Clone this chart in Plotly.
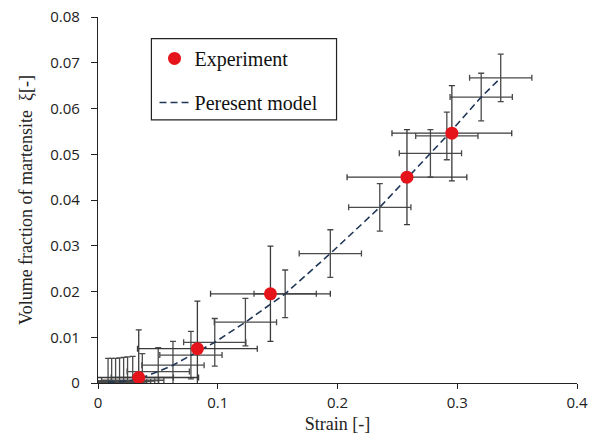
import plotly.graph_objects as go

# Experimental measurements (strain, martensite volume fraction) with uncertainties
exp_strain = [0.034, 0.083, 0.144, 0.258, 0.2955]
exp_xi = [0.0012, 0.0075, 0.0195, 0.0450, 0.0546]
exp_strain_err = [0.050, 0.050, 0.050, 0.050, 0.050]
exp_xi_err = [0.0104, 0.0104, 0.0104, 0.0104, 0.0104]

# Present model predictions with their uncertainty bands
model_strain = [0.0084, 0.0114, 0.0147, 0.0180, 0.0214, 0.0247, 0.0290, 0.0370,
                0.0503, 0.0626, 0.0776, 0.0975, 0.1231, 0.1563, 0.1940, 0.2353,
                0.2776, 0.2913, 0.3200, 0.3363]
model_xi = [0.0002, 0.0002, 0.0002, 0.0003, 0.0004, 0.0005, 0.0006, 0.0012,
            0.0025, 0.0039, 0.0061, 0.0089, 0.0133, 0.0195, 0.0283, 0.0384,
            0.0502, 0.0540, 0.0625, 0.0667]
model_strain_err = 0.026
model_xi_err = 0.0052

x_ticks = [0, 0.1, 0.2, 0.3, 0.4]
x_tick_text = ["0", "0.1", "0.2", "0.3", "0.4"]
y_ticks = [0, 0.01, 0.02, 0.03, 0.04, 0.05, 0.06, 0.07, 0.08]
y_tick_text = ["0", "0.01", "0.02", "0.03", "0.04", "0.05", "0.06", "0.07", "0.08"]

BAR = "#4a4a4a"
SERIF = "Liberation Serif"

fig = go.Figure()

fig.add_trace(go.Scatter(
    x=model_strain, y=model_xi, mode="lines", name="Peresent model",
    line=dict(color="#1f3656", width=1.6, dash="7px,4px"),
    error_x=dict(type="constant", value=model_strain_err, color=BAR, thickness=1.3, width=3),
    error_y=dict(type="constant", value=model_xi_err, color=BAR, thickness=1.3, width=3),
    legendgroup="model", legendrank=2,
))

fig.add_trace(go.Scatter(
    x=exp_strain, y=exp_xi, mode="markers", name="Experiment",
    marker=dict(color="#e5141b", size=13, line=dict(width=0)),
    error_x=dict(type="data", array=exp_strain_err, color="#3a3a3a", thickness=1.3, width=3),
    error_y=dict(type="data", array=exp_xi_err, color="#3a3a3a", thickness=1.3, width=3),
    legendgroup="exp", legendrank=1,
))

# Legend frame
fig.add_shape(type="rect", xref="paper", yref="paper",
              x0=0.1115, x1=0.498, y0=0.719, y1=0.941,
              line=dict(color="#222", width=1.2), fillcolor="white", layer="below")

fig.update_layout(
    width=597, height=434,
    margin=dict(l=98, r=20, t=17, b=51),
    paper_bgcolor="white", plot_bgcolor="white",
    showlegend=True,
    legend=dict(x=0.118, y=0.94, xanchor="left", yanchor="top",
                bgcolor="rgba(0,0,0,0)", borderwidth=0,
                font=dict(family=SERIF, size=20, color="#111"),
                traceorder="grouped", tracegroupgap=15),
    xaxis=dict(range=[0, 0.4], tickvals=x_ticks, ticktext=x_tick_text,
               automargin=False,
               showgrid=False, zeroline=False, showline=True, linecolor="#222",
               linewidth=1.3, ticks="outside", ticklen=5, tickcolor="#222",
               tickfont=dict(family="Open Sans", size=15, color="#222"),
               ticklabelstandoff=1,
               title=dict(text="Strain [-]", font=dict(family=SERIF, size=18, color="#222"),
                          standoff=8)),
    yaxis=dict(range=[0, 0.08], tickvals=y_ticks, ticktext=y_tick_text,
               automargin=False,
               showgrid=False, zeroline=False, showline=True, linecolor="#222",
               linewidth=1.3, ticks="outside", ticklen=6, tickcolor="#222",
               tickfont=dict(family="Open Sans", size=15, color="#222"),
               ticklabelstandoff=8,
               title=dict(text="Volume fraction of martensite  ξ[-]",
                          font=dict(family=SERIF, size=18, color="#222"),
                          standoff=12)),
)

fig.write_html("out.html")
